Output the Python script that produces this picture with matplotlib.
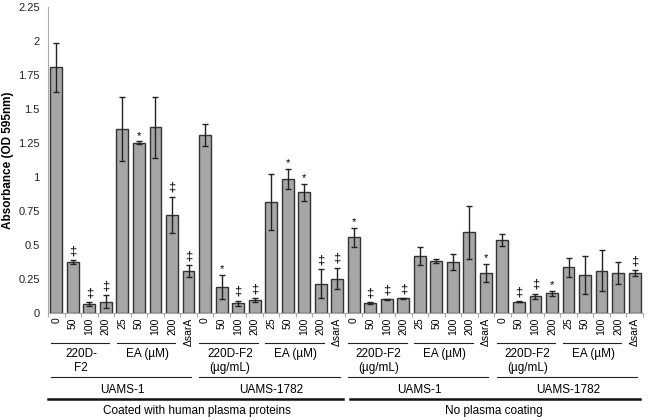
import matplotlib.pyplot as plt
from matplotlib.transforms import blended_transform_factory

plt.rcParams["font.family"] = ["Liberation Sans", "DejaVu Sans"]

# bar labels, values and errors (36 bars, left to right)
doses = ["0", "50", "100", "200", "25", "50", "100", "200", "\u0394sarA"] * 4
values = [1.81, 0.375, 0.069, 0.088, 1.357, 1.255, 1.368, 0.723, 0.314,
          1.309, 0.196, 0.074, 0.098, 0.821, 0.99, 0.89, 0.22, 0.257,
          0.559, 0.078, 0.103, 0.112, 0.424, 0.385, 0.38, 0.598, 0.299,
          0.542, 0.086, 0.125, 0.147, 0.338, 0.282, 0.314, 0.299, 0.299]
errors = [0.18, 0.015, 0.015, 0.045, 0.235, 0.01, 0.225, 0.135, 0.043,
          0.08, 0.09, 0.02, 0.017, 0.205, 0.075, 0.06, 0.105, 0.08,
          0.07, 0.005, 0.005, 0.003, 0.068, 0.015, 0.06, 0.195, 0.064,
          0.045, 0.003, 0.02, 0.02, 0.073, 0.137, 0.15, 0.08, 0.022]
marks = ["", "\u2021", "\u2021", "\u2021", "", "*", "", "\u2021", "\u2021",
         "", "*", "\u2021", "\u2021", "", "*", "*", "\u2021", "\u2021",
         "*", "\u2021", "\u2021", "\u2021", "", "", "", "", "*",
         "", "\u2021", "\u2021", "*", "", "", "", "", "\u2021"]

# bracket groups: (first bar, last bar, label)
treat_groups = []
for s in range(4):
    b = s * 9
    first = "220D-\nF2" if s == 0 else "220D-F2\n(\u00b5g/mL)"
    treat_groups += [(b, b + 3, first), (b + 4, b + 7, "EA (\u00b5M)")]
strain_groups = [(0, 8, "UAMS-1"), (9, 17, "UAMS-1782"),
                 (18, 26, "UAMS-1"), (27, 35, "UAMS-1782")]
coat_groups = [(0, 17, "Coated with human plasma proteins"),
               (18, 35, "No plasma coating")]

fig = plt.figure(figsize=(6.5, 4.2), dpi=100)
ax = fig.add_axes([0.074, 0.2536, 0.915, 0.729])

x = list(range(len(values)))
ax.bar(x, values, width=0.72, color="#a6a6a6", edgecolor="#333333",
       linewidth=1.0, zorder=2)
ax.errorbar(x, values, yerr=errors, fmt="none", ecolor="#222222",
            elinewidth=1.0, capsize=2.5, capthick=1.0, zorder=3)

for xi, v, e, m in zip(x, values, errors, marks):
    if not m:
        continue
    if m == "*":
        ax.annotate(m, (xi, v + e), textcoords="offset points", xytext=(0, 0.5),
                    ha="center", va="bottom", fontsize=8)
    else:
        ax.annotate(m, (xi, v + e), textcoords="offset points", xytext=(0, 2),
                    ha="center", va="bottom", fontsize=9.5)

ax.set_xlim(-0.5, 35.5)
ax.set_ylim(0, 2.25)
ax.set_yticks([0, 0.25, 0.5, 0.75, 1, 1.25, 1.5, 1.75, 2, 2.25])
ax.set_yticklabels(["0", "0.25", "0.5", "0.75", "1", "1.25", "1.5", "1.75", "2", "2.25"])
ax.tick_params(axis="y", length=0, labelsize=8, pad=6, labelcolor="#222222")
ax.set_xticks([i - 0.5 for i in range(37)])
ax.set_xticklabels([])
ax.tick_params(axis="x", length=3, color="#aaaaaa", direction="out")
for side in ["top", "right"]:
    ax.spines[side].set_visible(False)
ax.spines["left"].set_color("#aaaaaa")
ax.spines["bottom"].set_color("#aaaaaa")
ax.set_ylabel("Absorbance (OD 595nm)", fontsize=8.5, fontweight="bold")
ax.yaxis.set_label_coords(-0.057, 0.5)

trans = blended_transform_factory(ax.transData, ax.transAxes)
h = 306.0  # axes height in px


def fy(px):
    return -px / h


for xi, lab in zip(x, doses):
    ax.text(xi, fy(4), lab, transform=trans, rotation=90, ha="center",
            va="top", fontsize=7.5)

for a, b, lab in treat_groups:
    ax.plot([a - 0.35, b + 0.2], [fy(29.5)] * 2, transform=trans, color="#222222",
            lw=0.8, clip_on=False)
    ax.text((a + b) / 2, fy(34), lab, transform=trans, ha="center", va="top",
            fontsize=8.5, linespacing=1.25)

for a, b, lab in strain_groups:
    ax.plot([a - 0.35, b + 0.15], [fy(63.5)] * 2, transform=trans, color="#222222",
            lw=0.8, clip_on=False)
    ax.text((a + b) / 2, fy(70), lab, transform=trans, ha="center", va="top",
            fontsize=8.5)

for a, b, lab in coat_groups:
    start = a - 0.5 if a == 0 else a - 0.2
    ax.plot([start, b + 0.35], [fy(85.5)] * 2, transform=trans,
            color="#111111", lw=1.8, clip_on=False)
    ax.text((a + b) / 2, fy(91.5), lab, transform=trans, ha="center", va="top",
            fontsize=8.5)

plt.savefig("out.png", dpi=100)
